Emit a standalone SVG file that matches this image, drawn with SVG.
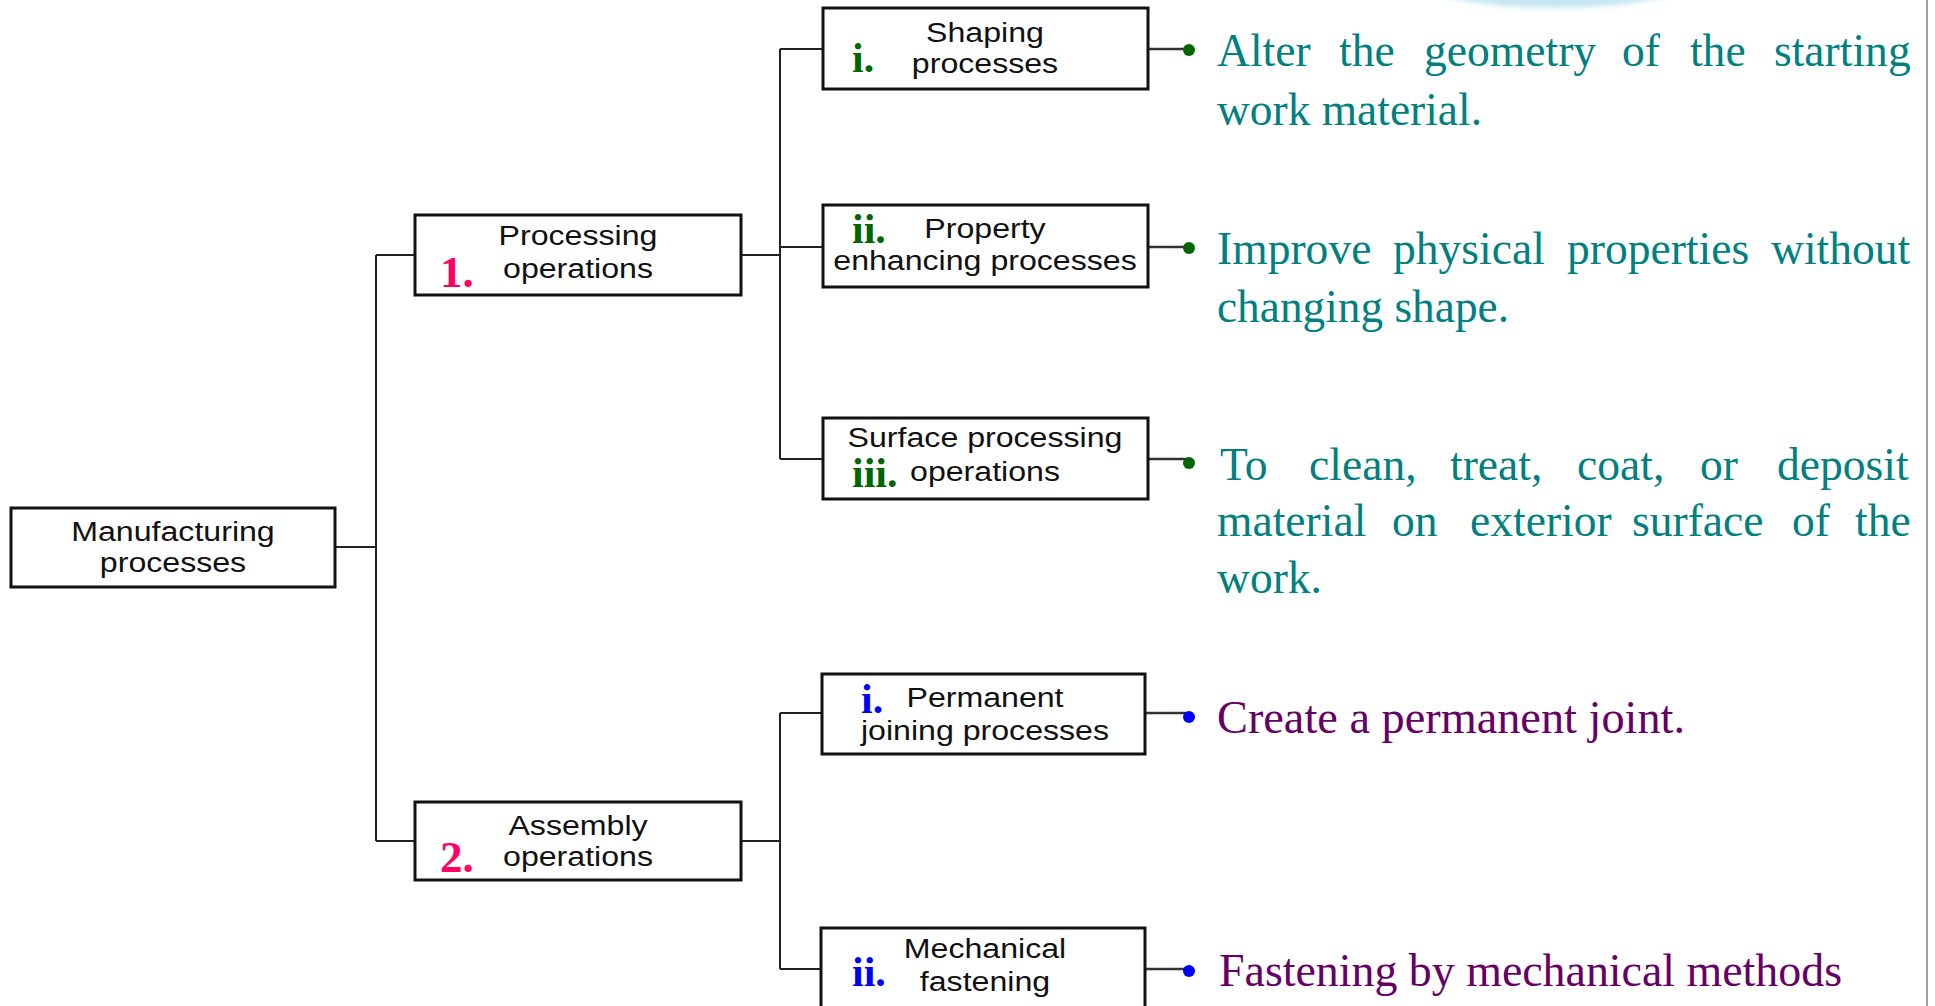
<svg xmlns="http://www.w3.org/2000/svg" width="1935" height="1006" viewBox="0 0 1935 1006">
  <defs>
    <filter id="soft" x="-20%" y="-50%" width="140%" height="200%">
      <feGaussianBlur stdDeviation="2.5"/>
    </filter>
  </defs>
  <style>
    .box { fill: #ffffff; stroke: #111111; stroke-width: 3; }
    .lbl { font-family: "Liberation Sans", Arial, sans-serif; font-size: 27px; fill: #111111; text-anchor: middle; }
    .num { font-family: "Liberation Serif", "Times New Roman", serif; font-size: 45px; font-weight: bold; fill: #ff0066; }
    .rom { font-family: "Liberation Serif", "Times New Roman", serif; font-size: 42px; font-weight: bold; }
    .g { fill: #006600; }
    .b { fill: #0000ff; }
    .wire { fill: none; stroke: #222222; stroke-width: 2; }
    .lead { fill: none; stroke: #333333; stroke-width: 2.5; }
    .desc { font-family: "Liberation Serif", "Times New Roman", serif; font-size: 47px; }
    .teal { fill: #008080; }
    .plum { fill: #660066; }
  </style>

  <rect width="1935" height="1006" fill="#ffffff"/>
  <!-- pale glow at the top edge -->
  <ellipse cx="1555" cy="-38" rx="170" ry="46" fill="#c6e6f3" filter="url(#soft)"/>
  <!-- right frame line -->
  <line x1="1927" y1="0" x2="1927" y2="1006" stroke="#a0a0a0" stroke-width="2"/>

  <!-- tree connectors -->
  <g id="connectors">
    <path class="wire" d="M335 547 H376 M376 255 V841 M376 255 H415 M376 841 H415"/>
    <path class="wire" d="M741 255 H780 M780 49 V459 M780 49 H823 M780 247 H823 M780 459 H823"/>
    <path class="wire" d="M741 841 H780 M780 713 V969 M780 713 H822 M780 969 H821"/>
    <path class="lead" d="M1148 49 H1186 M1148 247 H1186 M1148 459 H1186 M1145 713 H1186 M1145 969 H1186"/>
  </g>

  <g id="manufacturing">
    <rect class="box" x="11" y="508" width="324" height="79"/>
    <text class="lbl" transform="translate(173 541) scale(1.19 1)">Manufacturing</text>
    <text class="lbl" transform="translate(173 572) scale(1.19 1)">processes</text>
  </g>

  <g id="processing">
    <rect class="box" x="415" y="215" width="326" height="80"/>
    <text class="lbl" transform="translate(578 245) scale(1.19 1)">Processing</text>
    <text class="lbl" transform="translate(578 278) scale(1.19 1)">operations</text>
    <text class="num" x="440" y="287">1.</text>
  </g>

  <g id="assembly">
    <rect class="box" x="415" y="802" width="326" height="78"/>
    <text class="lbl" transform="translate(578 835) scale(1.19 1)">Assembly</text>
    <text class="lbl" transform="translate(578 866) scale(1.19 1)">operations</text>
    <text class="num" x="440" y="872">2.</text>
  </g>

  <g id="shaping">
    <rect class="box" x="823" y="8" width="325" height="81"/>
    <text class="lbl" transform="translate(985 42) scale(1.19 1)">Shaping</text>
    <text class="lbl" transform="translate(985 73) scale(1.19 1)">processes</text>
    <text class="rom g" x="852" y="72">i.</text>
  </g>

  <g id="property">
    <rect class="box" x="823" y="205" width="325" height="82"/>
    <text class="lbl" transform="translate(985 238) scale(1.19 1)">Property</text>
    <text class="lbl" transform="translate(985 270) scale(1.19 1)">enhancing processes</text>
    <text class="rom g" x="852" y="243">ii.</text>
  </g>

  <g id="surface">
    <rect class="box" x="823" y="418" width="325" height="81"/>
    <text class="lbl" transform="translate(985 447) scale(1.19 1)">Surface processing</text>
    <text class="lbl" transform="translate(985 481) scale(1.19 1)">operations</text>
    <text class="rom g" x="852" y="487">iii.</text>
  </g>

  <g id="permanent">
    <rect class="box" x="822" y="674" width="323" height="80"/>
    <text class="lbl" transform="translate(985 707) scale(1.19 1)">Permanent</text>
    <text class="lbl" transform="translate(985 740) scale(1.19 1)">joining processes</text>
    <text class="rom b" x="861" y="713">i.</text>
  </g>

  <g id="mechanical">
    <rect class="box" x="821" y="928" width="324" height="100"/>
    <text class="lbl" transform="translate(985 958) scale(1.19 1)">Mechanical</text>
    <text class="lbl" transform="translate(985 991) scale(1.19 1)">fastening</text>
    <text class="rom b" x="852" y="986">ii.</text>
  </g>

  <!-- bullet notes: justified lines place each word, last lines are fitted to width -->
  <g id="note-shaping">
    <circle class="g" cx="1189" cy="50" r="6"/>
    <text class="desc teal" transform="translate(1217 66) scale(0.97 1)"><tspan x="0">Alter</tspan><tspan x="125.8">the</tspan><tspan x="213.4">geometry</tspan><tspan x="417.5">of</tspan><tspan x="487.6">the</tspan><tspan x="574.2">starting</tspan></text>
    <text class="desc teal" x="1217" y="125" textLength="265" lengthAdjust="spacingAndGlyphs">work material.</text>
  </g>

  <g id="note-property">
    <circle class="g" cx="1189" cy="248" r="6"/>
    <text class="desc teal" transform="translate(1217 264) scale(0.97 1)"><tspan x="0">Improve</tspan><tspan x="181.4">physical</tspan><tspan x="360.8">properties</tspan><tspan x="571.1">without</tspan></text>
    <text class="desc teal" x="1217" y="322" textLength="292" lengthAdjust="spacingAndGlyphs">changing shape.</text>
  </g>

  <g id="note-surface">
    <circle class="g" cx="1189" cy="463" r="6"/>
    <text class="desc teal" transform="translate(1220 480) scale(0.97 1)"><tspan x="0">To</tspan><tspan x="91.8">clean,</tspan><tspan x="237.1">treat,</tspan><tspan x="368.0">coat,</tspan><tspan x="494.8">or</tspan><tspan x="574.2">deposit</tspan></text>
    <text class="desc teal" transform="translate(1217 536) scale(0.97 1)"><tspan x="0">material</tspan><tspan x="180.4">on</tspan><tspan x="260.8">exterior</tspan><tspan x="427.8">surface</tspan><tspan x="592.8">of</tspan><tspan x="657.7">the</tspan></text>
    <text class="desc teal" x="1217" y="593" textLength="105" lengthAdjust="spacingAndGlyphs">work.</text>
  </g>

  <g id="note-permanent">
    <circle class="b" cx="1189" cy="717" r="6"/>
    <text class="desc plum" x="1217" y="733" textLength="468" lengthAdjust="spacingAndGlyphs">Create a permanent joint.</text>
  </g>

  <g id="note-mechanical">
    <circle class="b" cx="1189" cy="971" r="6"/>
    <text class="desc plum" x="1219" y="986" textLength="623" lengthAdjust="spacingAndGlyphs">Fastening by mechanical methods</text>
  </g>
</svg>
